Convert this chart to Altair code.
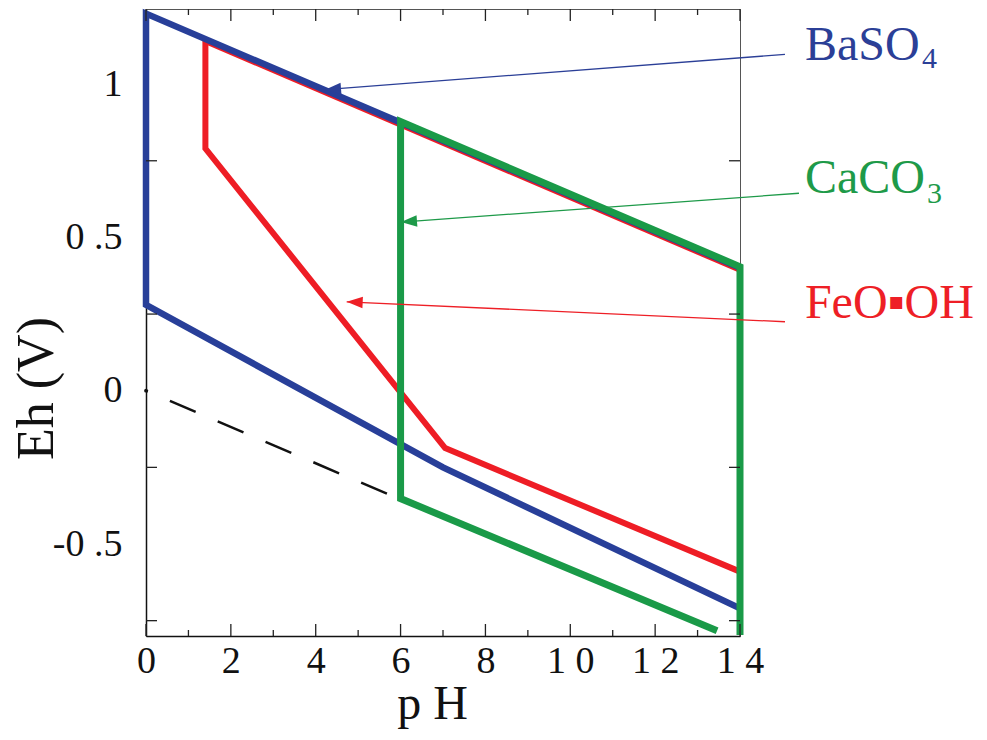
import math
import altair as alt
import pandas as pd

# ---------------- data ----------------
ph_ticks_major = [0, 2, 4, 6, 8, 10, 12, 14]
ph_tick_labels = ["0", "2", "4", "6", "8", "1 0", "1 2", "1 4"]
ph_ticks_minor = [1, 3, 5, 7, 9, 11, 13]
eh_label_values = [1, 0.5, 0, -0.5]
eh_tick_labels = ["1", "0 .5", "0", "-0 .5"]
eh_ticks = [0.75, 0.25, -0.25, -0.75]

baso4_ph = [14, 0, 0, 7, 14]
baso4_eh = [0.401, 1.23, 0.28, -0.25, -0.71]

caco3_ph = [13.46, 6, 6, 14, 14]
caco3_eh = [-0.786, -0.355, 0.875, 0.401, -0.80]

feooh_ph = [1.4, 1.4, 7.05, 14]
feooh_eh = [1.147, 0.79, -0.187, -0.59]
feooh_edge_ph = [1.4, 14]
feooh_edge_eh = [1.147, 0.401]

water_ph = [0, 6]
water_eh = [0, -0.355]

label_names = ["BaSO", "CaCO", "FeO▪OH"]
label_colors = ["#2b3f97", "#1e9a49", "#ee1f26"]
label_ph = [15.53, 15.53, 15.53]
label_eh = [1.08, 0.646, 0.237]
sub_texts = ["4", "3"]
sub_colors = ["#2b3f97", "#1e9a49"]
sub_ph = [18.29, 18.41]
sub_eh = [1.054, 0.613]

arrow_from_ph = [15.06, 15.39, 15.06]
arrow_from_eh = [1.097, 0.644, 0.225]
arrow_to_ph = [4.22, 6.01, 4.73]
arrow_to_eh = [0.982, 0.55, 0.29]
arrow_colors = ["#2b3f97", "#1e9a49", "#ee1f26"]

BLUE = "#283f99"
RED = "#ee1d25"
GREEN = "#1a9a48"

W, H = 594, 627
X_DOM = [0, 14]
Y_DOM = [-0.8, 1.245]
px_ph = W / (X_DOM[1] - X_DOM[0])
px_eh = H / (Y_DOM[1] - Y_DOM[0])

FONT = "Liberation Serif"

# ---------------- frames ----------------
def poly(ph, eh):
    return pd.DataFrame({"ph": ph, "eh": eh, "i": list(range(len(ph)))})

xs = alt.Scale(domain=X_DOM, nice=False, zero=False)
ys = alt.Scale(domain=Y_DOM, nice=False, zero=False)

x_label_expr = "[" + ",".join("'%s'" % s for s in ph_tick_labels) + "][indexof([" + \
    ",".join(str(v) for v in ph_ticks_major) + "], datum.value)]"
y_label_expr = "[" + ",".join("'%s'" % s for s in eh_tick_labels) + "][indexof([" + \
    ",".join(str(v) for v in eh_label_values) + "], datum.value)]"

x_axis = alt.Axis(values=ph_ticks_major, labelExpr=x_label_expr, ticks=False, grid=False,
                  domain=True, domainColor="#111", domainWidth=1.5, labelFlush=False,
                  labelFont=FONT, labelFontSize=38, labelColor="#111", labelPadding=6,
                  title="p H", titleFont=FONT, titleFontSize=48, titleFontWeight="normal",
                  titleColor="#111", titleX=286, titleY=82, titleBaseline="alphabetic",
                  titleAlign="center", titleAnchor="start")
y_axis = alt.Axis(values=eh_label_values, labelExpr=y_label_expr, ticks=False, grid=False,
                  domain=True, domainColor="#111", domainWidth=1.5, labelFlush=False,
                  labelFont=FONT, labelFontSize=38, labelColor="#111", labelPadding=24,
                  labelBaseline="middle",
                  title="Eh (V)", titleFont=FONT, titleFontSize=52, titleFontWeight="normal",
                  titleColor="#111", titleX=-110, titleY=379, titleAngle=270,
                  titleBaseline="middle", titleAlign="center", titleAnchor="start")

def X(field="ph", axis=False):
    if axis is False:
        return alt.X(field + ":Q", scale=xs)
    return alt.X(field + ":Q", scale=xs, axis=axis)

def Y(field="eh", axis=False):
    if axis is False:
        return alt.Y(field + ":Q", scale=ys)
    return alt.Y(field + ":Q", scale=ys, axis=axis)

water = alt.Chart(poly(water_ph, water_eh)).mark_line(
    color="#111", strokeWidth=2.5, strokeDash=[28, 24], strokeDashOffset=26
).encode(x=X(axis=x_axis), y=Y(axis=y_axis), order="i:Q")

dot = alt.Chart(poly(water_ph[:1], water_eh[:1])).mark_point(
    filled=True, color="#111", size=14, opacity=1
).encode(x=X(), y=Y())

fe_edge = alt.Chart(poly(feooh_edge_ph, feooh_edge_eh)).mark_line(
    color=RED, strokeWidth=6, yOffset=2
).encode(x=X(), y=Y(), order="i:Q")

fe = alt.Chart(poly(feooh_ph, feooh_eh)).mark_line(
    color=RED, strokeWidth=6, strokeJoin="miter"
).encode(x=X(), y=Y(), order="i:Q")

ba = alt.Chart(poly(baso4_ph, baso4_eh)).mark_line(
    color=BLUE, strokeWidth=6.5, strokeJoin="miter"
).encode(x=X(), y=Y(), order="i:Q")

ca = alt.Chart(poly(caco3_ph, caco3_eh)).mark_line(
    color=GREEN, strokeWidth=7, strokeJoin="miter", yOffset=-1
).encode(x=X(), y=Y(), order="i:Q")

# inward tick marks
maj = pd.DataFrame({"ph": ph_ticks_major})
mnr = pd.DataFrame({"ph": ph_ticks_minor})
yt = pd.DataFrame({"eh": eh_ticks})
tick_color = "#222"
ticks = [
    alt.Chart(maj).mark_rule(color=tick_color, strokeWidth=1.3).encode(x=X(), y=alt.value(H), y2=alt.value(H - 12)),
    alt.Chart(mnr).mark_rule(color=tick_color, strokeWidth=1.3).encode(x=X(), y=alt.value(H), y2=alt.value(H - 6)),
    alt.Chart(maj).mark_rule(color=tick_color, strokeWidth=1.3).encode(x=X(), y=alt.value(0), y2=alt.value(12)),
    alt.Chart(mnr).mark_rule(color=tick_color, strokeWidth=1.3).encode(x=X(), y=alt.value(0), y2=alt.value(6)),
    alt.Chart(yt).mark_rule(color=tick_color, strokeWidth=1.3).encode(y=Y(), x=alt.value(0), x2=alt.value(11)),
    alt.Chart(yt).mark_rule(color=tick_color, strokeWidth=1.3).encode(y=Y(), x=alt.value(W), x2=alt.value(W - 11)),
]

# arrows
angles = []
for fp, fe_, tp, te in zip(arrow_from_ph, arrow_from_eh, arrow_to_ph, arrow_to_eh):
    dx = (fp - tp) * px_ph
    dy = -(fe_ - te) * px_eh
    angles.append(math.degrees(math.atan2(dy, dx)) % 360)

arr = pd.DataFrame({
    "from_ph": arrow_from_ph, "from_eh": arrow_from_eh,
    "ph": arrow_to_ph, "eh": arrow_to_eh,
    "color": arrow_colors, "angle": angles,
})
arrow_lines = alt.Chart(arr).mark_rule(strokeWidth=1.3).encode(
    x=X("from_ph"), y=Y("from_eh"), x2="ph:Q", y2="eh:Q",
    color=alt.Color("color:N", scale=None),
)
arrow_heads = alt.Chart(arr).mark_point(
    shape="M0,0L2,-0.72L2,0.72Z", filled=True, size=256, opacity=1, strokeWidth=0
).encode(
    x=X(), y=Y(), color=alt.Color("color:N", scale=None),
    angle=alt.Angle("angle:Q", scale=None),
)

labels = alt.Chart(pd.DataFrame({
    "ph": label_ph, "eh": label_eh, "t": label_names, "color": label_colors
})).mark_text(font=FONT, fontSize=48, align="left", baseline="alphabetic").encode(
    x=X(), y=Y(), text="t:N", color=alt.Color("color:N", scale=None)
)
subs = alt.Chart(pd.DataFrame({
    "ph": sub_ph, "eh": sub_eh, "t": sub_texts, "color": sub_colors
})).mark_text(font=FONT, fontSize=30, align="left", baseline="alphabetic").encode(
    x=X(), y=Y(), text="t:N", color=alt.Color("color:N", scale=None)
)

chart = alt.layer(
    water, dot, fe_edge, fe, ba, ca, *ticks, arrow_lines, arrow_heads, labels, subs
).properties(
    width=W, height=H,
    autosize=alt.AutoSizeParams(type="none"),
    padding={"left": 138, "top": 1, "right": 239, "bottom": 95},
    background="white",
).configure_view(stroke="#555", strokeWidth=1)

chart.save("out.html", embed_options={"renderer": "svg", "actions": False})
